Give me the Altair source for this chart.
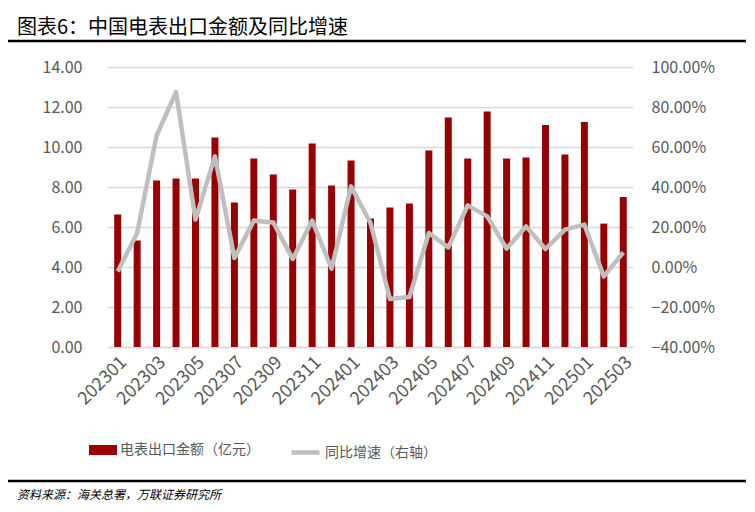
import altair as alt
import pandas as pd

months = ['202301', '202302', '202303', '202304', '202305', '202306', '202307', '202308', '202309',
          '202310', '202311', '202312', '202401', '202402', '202403', '202404', '202405', '202406',
          '202407', '202408', '202409', '202410', '202411', '202412', '202501', '202502', '202503']
export_value = [6.63, 5.33, 8.32, 8.42, 8.42, 10.48, 7.22, 9.42, 8.62, 7.88, 10.18, 8.08, 9.33,
                6.43, 6.98, 7.17, 9.82, 11.48, 9.42, 11.78, 9.42, 9.47, 11.10, 9.62, 11.25, 6.17, 7.50]
yoy_pct = [-2.2, 17.0, 65.7, 87.5, 23.7, 55.3, 4.5, 23.2, 22.3, 4.0, 23.2, -0.8, 40.3,
           22.0, -16.0, -15.0, 17.0, 9.8, 30.8, 25.3, 9.2, 20.3, 9.0, 18.7, 21.2, -4.7, 7.3]
bar_name = '电表出口金额（亿元）'
line_name = '同比增速（右轴）'
title_text = '图表6：中国电表出口金额及同比增速'
source_text = '资料来源：海关总署，万联证券研究所'
left_ticks = [0, 2, 4, 6, 8, 10, 12, 14]
right_ticks = [-40, -20, 0, 20, 40, 60, 80, 100]
x_label_values = months[::2]

df = pd.DataFrame({'month': months, 'value': export_value, 'yoy': yoy_pct,
                   'bar_s': bar_name, 'line_s': line_name})

FONT = 'Noto Sans CJK SC'
GRAY = '#595959'

x_enc = alt.X('month:N', sort=months, title=None,
              scale=alt.Scale(paddingInner=0.0, paddingOuter=0.0),
              axis=alt.Axis(values=x_label_values, labelAngle=-45, labelFontSize=18,
                            labelColor=GRAY, labelFont=FONT, ticks=False,
                            domainColor='#D9D9D9', domainWidth=1.5, labelPadding=6))

bars = alt.Chart(df).mark_bar(size=7).encode(
    x=x_enc,
    y=alt.Y('value:Q', title=None,
            scale=alt.Scale(domain=[0, 14], nice=False),
            axis=alt.Axis(values=left_ticks, format='.2f', labelFontSize=16, labelColor=GRAY,
                          labelFont=FONT, ticks=False, domain=False, grid=True,
                          gridColor='#D9D9D9', gridWidth=1.5, labelPadding=26)),
    fill=alt.Fill('bar_s:N', scale=alt.Scale(domain=[bar_name], range=['#990000']),
                  legend=alt.Legend(title=None, orient='none', legendX=-19, legendY=369,
                                    symbolType='M-1,-0.36L1,-0.36L1,0.36L-1,0.36Z',
                                    symbolSize=784, symbolStrokeWidth=0,
                                    labelFontSize=14, labelColor=GRAY, labelFont=FONT,
                                    labelOffset=3))
)

line = alt.Chart(df).mark_line(strokeWidth=4.5, strokeJoin='round').encode(
    x=alt.X('month:N', sort=months),
    y=alt.Y('yoy:Q', title=None,
            scale=alt.Scale(domain=[-40, 100], nice=False),
            axis=alt.Axis(orient='right', values=right_ticks,
                          labelExpr="format(datum.value, '.2f') + '%'",
                          labelFontSize=16, labelColor=GRAY, labelFont=FONT,
                          ticks=False, domain=False, grid=False, labelPadding=18)),
    stroke=alt.Stroke('line_s:N', scale=alt.Scale(domain=[line_name], range=['#BFBFBF']),
                      legend=alt.Legend(title=None, orient='none', legendX=181, legendY=369,
                                        symbolType='stroke', symbolSize=784,
                                        symbolStrokeWidth=4.5,
                                        labelFontSize=14, labelColor=GRAY, labelFont=FONT,
                                        labelOffset=3))
)

ann = pd.DataFrame({'t': [title_text]})
title = alt.Chart(ann).mark_text(align='left', baseline='alphabetic', fontSize=20,
                                 font=FONT, color='#000000').encode(
    x=alt.value(-91), y=alt.value(-33), text='t:N')
src = pd.DataFrame({'t': [source_text]})
source = alt.Chart(src).mark_text(align='left', baseline='alphabetic', fontSize=12,
                                  font=FONT, fontStyle='italic', color='#000000').encode(
    x=alt.value(-91), y=alt.value(432), text='t:N')

rule_df = pd.DataFrame({'k': [1]})
rule_top = alt.Chart(rule_df).mark_rule(color='#000000', strokeWidth=3).encode(
    x=alt.value(-100), x2=alt.value(638), y=alt.value(-62))
rule_mid = alt.Chart(rule_df).mark_rule(color='#000000', strokeWidth=2.5).encode(
    x=alt.value(-100), x2=alt.value(638), y=alt.value(-26))
rule_bot = alt.Chart(rule_df).mark_rule(color='#000000', strokeWidth=2.5).encode(
    x=alt.value(-100), x2=alt.value(638), y=alt.value(414))

chart = alt.layer(bars, line, title, source, rule_top, rule_mid, rule_bot).resolve_scale(
    y='independent'
).properties(
    width=525, height=280,
    autosize=alt.AutoSizeParams(type='none'),
    padding={'left': 100, 'top': 59, 'right': 114, 'bottom': 157},
    background='white'
).configure_view(stroke=None)

chart.save('out.html', embed_options={'renderer': 'svg', 'actions': False})
